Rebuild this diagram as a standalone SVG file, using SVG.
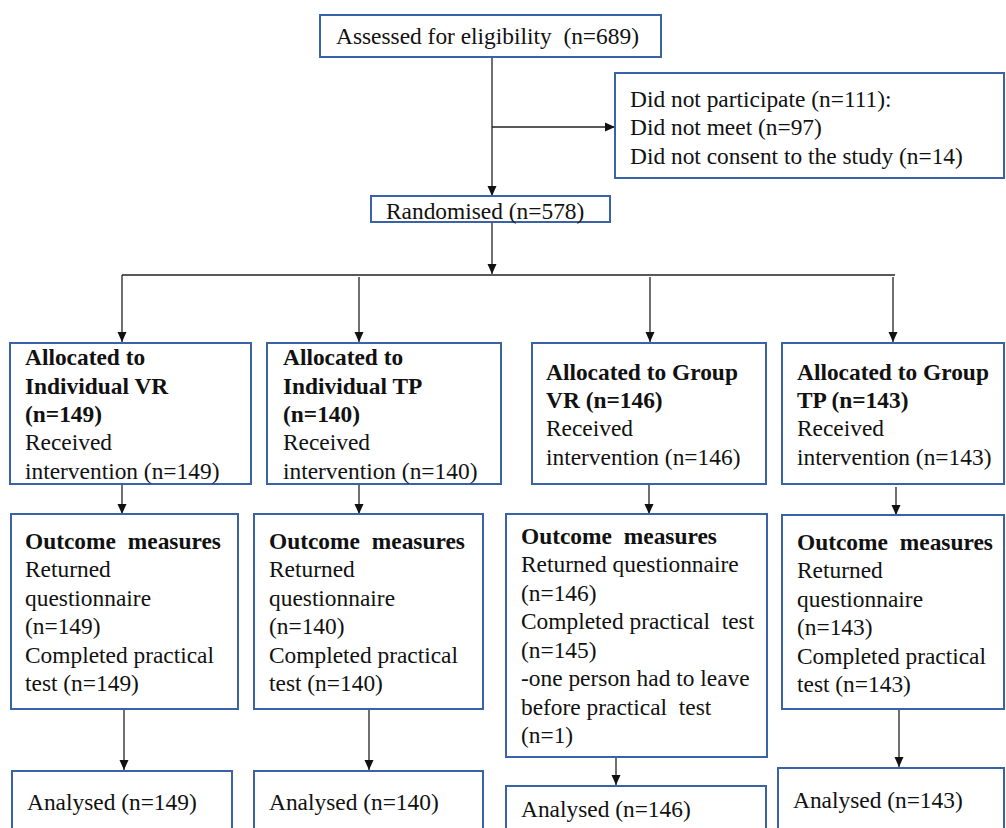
<svg xmlns="http://www.w3.org/2000/svg" width="1006" height="828" viewBox="0 0 1006 828">
<defs>
<marker id="ah" markerWidth="10" markerHeight="10" refX="10" refY="5" orient="auto" markerUnits="userSpaceOnUse">
<path d="M0,0.5 L10,5 L0,9.5 Z" fill="#111"/>
</marker>
<style>
.box{fill:#fff;stroke:#3a62a8;stroke-width:2}
.ln{fill:none;stroke:#222;stroke-width:1.3}
.ar{fill:none;stroke:#222;stroke-width:1.3;marker-end:url(#ah)}
text{font-family:"Liberation Serif","Times New Roman",serif;font-size:23.4px;fill:#111;white-space:pre}
.b{font-weight:bold}
.om{font-weight:bold;word-spacing:6px}
</style>
</defs>
<rect width="1006" height="828" fill="#fff"/>
<g id="connectors">
<line class="ar" x1="492" y1="57" x2="492" y2="196"/>
<line class="ar" x1="492" y1="127" x2="615" y2="127"/>
<line class="ar" x1="492" y1="222" x2="492" y2="274"/>
<line class="ln" x1="122" y1="275" x2="895" y2="275"/>
<line class="ar" x1="122" y1="275" x2="122" y2="342"/>
<line class="ar" x1="359" y1="277" x2="359" y2="342"/>
<line class="ar" x1="650" y1="277" x2="650" y2="342"/>
<line class="ar" x1="893" y1="277" x2="893" y2="342"/>
<line class="ar" x1="122" y1="485" x2="122" y2="514"/>
<line class="ar" x1="359" y1="485" x2="359" y2="514"/>
<line class="ar" x1="649" y1="485" x2="649" y2="514"/>
<line class="ar" x1="896" y1="487" x2="896" y2="515"/>
<line class="ar" x1="124" y1="709" x2="124" y2="770"/>
<line class="ar" x1="369" y1="709" x2="369" y2="770"/>
<line class="ar" x1="616" y1="757" x2="616" y2="785"/>
<line class="ar" x1="899" y1="709" x2="899" y2="767"/>
</g>
<g id="assessed">
<rect class="box" x="320" y="15" width="341" height="42"/>
<text x="336" y="44">Assessed for eligibility  (n=689)</text>
</g>
<g id="excluded">
<rect class="box" x="615" y="73" width="389" height="105"/>
<text x="630" y="107">Did not participate (n=111):</text>
<text x="630" y="135">Did not meet (n=97)</text>
<text x="630" y="164">Did not consent to the study (n=14)</text>
</g>
<g id="randomised">
<rect class="box" x="371" y="196" width="239" height="26"/>
<text x="386" y="219">Randomised (n=578)</text>
</g>
<g id="alloc-ind-vr">
<rect class="box" x="10" y="343" width="241" height="141"/>
<text class="b" x="25" y="365">Allocated to</text>
<text class="b" x="25" y="394">Individual VR</text>
<text class="b" x="25" y="422">(n=149)</text>
<text x="25" y="450">Received</text>
<text x="25" y="479">intervention (n=149)</text>
</g>
<g id="alloc-ind-tp">
<rect class="box" x="267" y="343" width="234" height="141"/>
<text class="b" x="283" y="365">Allocated to</text>
<text class="b" x="283" y="394">Individual TP</text>
<text class="b" x="283" y="422">(n=140)</text>
<text x="283" y="450">Received</text>
<text x="283" y="479">intervention (n=140)</text>
</g>
<g id="alloc-grp-vr">
<rect class="box" x="532" y="343" width="234" height="141"/>
<text class="b" x="546" y="380">Allocated to Group</text>
<text class="b" x="546" y="408">VR (n=146)</text>
<text x="546" y="436">Received</text>
<text x="546" y="465">intervention (n=146)</text>
</g>
<g id="alloc-grp-tp">
<rect class="box" x="782" y="343" width="222" height="141"/>
<text class="b" x="797" y="380">Allocated to Group</text>
<text class="b" x="797" y="408">TP (n=143)</text>
<text x="797" y="436">Received</text>
<text x="797" y="465">intervention (n=143)</text>
</g>
<g id="outcome-ind-vr">
<rect class="box" x="11" y="514" width="227" height="195"/>
<text class="om" x="25" y="549">Outcome measures</text>
<text x="25" y="577">Returned</text>
<text x="25" y="606">questionnaire</text>
<text x="25" y="634">(n=149)</text>
<text x="25" y="663">Completed practical</text>
<text x="25" y="691">test (n=149)</text>
</g>
<g id="outcome-ind-tp">
<rect class="box" x="254" y="514" width="229" height="195"/>
<text class="om" x="269" y="549">Outcome measures</text>
<text x="269" y="577">Returned</text>
<text x="269" y="606">questionnaire</text>
<text x="269" y="634">(n=140)</text>
<text x="269" y="663">Completed practical</text>
<text x="269" y="691">test (n=140)</text>
</g>
<g id="outcome-grp-vr">
<rect class="box" x="506" y="514" width="261" height="243"/>
<text class="om" x="521" y="544">Outcome measures</text>
<text x="521" y="572">Returned questionnaire</text>
<text x="521" y="601">(n=146)</text>
<text x="521" y="629">Completed practical  test</text>
<text x="521" y="658">(n=145)</text>
<text x="521" y="686">-one person had to leave</text>
<text x="521" y="715">before practical  test</text>
<text x="521" y="743">(n=1)</text>
</g>
<g id="outcome-grp-tp">
<rect class="box" x="782" y="515" width="222" height="194"/>
<text class="om" x="797" y="550">Outcome measures</text>
<text x="797" y="578">Returned</text>
<text x="797" y="607">questionnaire</text>
<text x="797" y="635">(n=143)</text>
<text x="797" y="664">Completed practical</text>
<text x="797" y="692">test (n=143)</text>
</g>
<g id="analysed-ind-vr">
<rect class="box" x="12" y="771" width="220" height="70"/>
<text x="27" y="810">Analysed (n=149)</text>
</g>
<g id="analysed-ind-tp">
<rect class="box" x="254" y="771" width="229" height="70"/>
<text x="269" y="810">Analysed (n=140)</text>
</g>
<g id="analysed-grp-vr">
<rect class="box" x="506" y="786" width="260" height="60"/>
<text x="521" y="817">Analysed (n=146)</text>
</g>
<g id="analysed-grp-tp">
<rect class="box" x="778" y="768" width="226" height="70"/>
<text x="793" y="808">Analysed (n=143)</text>
</g>
</svg>
